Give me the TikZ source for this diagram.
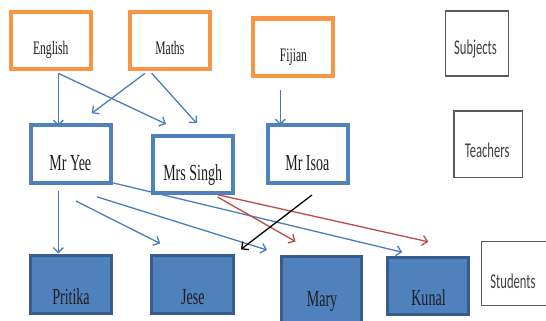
\documentclass[tikz,border=0pt]{standalone}
\usepackage{fontspec}
\setmainfont{Liberation Serif}
\newfontfamily\condserif[FakeStretch=0.61]{Liberation Serif}
\newfontfamily\condsans[FakeStretch=0.6]{Carlito}
\usetikzlibrary{arrows.meta,calc}
\definecolor{orng}{HTML}{F79646}
\definecolor{tblue}{HTML}{4F81BD}
\definecolor{sfill}{HTML}{4F81BD}
\definecolor{sborder}{HTML}{385D8A}
\definecolor{ablue}{HTML}{4A7EBB}
\definecolor{ared}{HTML}{BE4B48}
\definecolor{txt}{HTML}{1E1E1E}
\begin{document}
\begin{tikzpicture}[x=1pt,y=-1pt,
  subjbox/.style={draw=orng, line width=4.2pt, fill=white, minimum width=80pt, minimum height=57pt, inner sep=0pt, outer sep=0pt},
  teachbox/.style={draw=tblue, line width=4pt, fill=white, minimum width=80pt, minimum height=57.3pt, inner sep=0pt, outer sep=0pt},
  studbox/.style={draw=sborder, fill=sfill, line width=3pt, minimum width=81.5pt, minimum height=58pt, inner sep=0pt, outer sep=0pt},
  catbox/.style={draw=black!65, line width=1.3pt, fill=white, inner sep=0pt, outer sep=0pt},
  smalltxt/.style={font=\condserif\fontsize{19}{19}\selectfont, text=txt, inner sep=0pt, anchor=base},
  bigtxt/.style={font=\condserif\fontsize{23}{23}\selectfont, text=txt, inner sep=0pt, anchor=base},
  sanstxt/.style={font=\condsans\fontsize{21}{21}\selectfont, text=txt!85!white, inner sep=0pt, anchor=base},
  arr/.style={line width=1.3pt, -{Straight Barb[length=5pt,width=10pt]}},
  barrow/.style={arr, draw=ablue},
  rarrow/.style={arr, draw=ared},
  karrow/.style={arr, draw=black}]
\useasboundingbox (0,0) rectangle (546,321);
\clip (0,0) rectangle (546,321);

% subjects
\node[subjbox] (eng) at (50.85,40.35) {};
\node[subjbox] (maths) at (170.25,40.35) {};
\node[subjbox, minimum height=57.7pt] (fij) at (293.35,47.35) {};
\node[catbox, minimum width=63.3pt, minimum height=64.9pt] (subj) at (477.1,43.5) {};

% teachers
\node[teachbox] (yee) at (71,154) {};
\node[teachbox] (singh) at (193.3,164.5) {};
\node[teachbox] (isoa) at (307.8,154.1) {};
\node[catbox, minimum width=68.7pt, minimum height=66.6pt] (teach) at (488.3,144.35) {};

% students
\node[studbox] (prit) at (70.75,284.5) {};
\node[studbox] (jese) at (192.7,284.5) {};
\node[studbox, minimum width=80.5pt, minimum height=67pt] (mary) at (321.25,290) {};
\node[studbox, minimum width=81.2pt, minimum height=57.5pt] (kunal) at (427.9,285.75) {};
\node[catbox, minimum width=65pt, minimum height=63.7pt] (stud) at (514.3,273.5) {};

% labels
\node[smalltxt] (engT) at (50.8,54.5) {English};
\node[smalltxt] (mathsT) at (169.8,54.5) {Maths};
\node[smalltxt] (fijT) at (293.5,61.5) {Fijian};
\node[sanstxt] (subjT) at (475.5,54.5) {Subjects};
\node[bigtxt] (yeeT) at (70.3,170.5) {Mr Yee};
\node[bigtxt] (singhT) at (192.7,180) {Mrs Singh};
\node[bigtxt] (isoaT) at (307.3,170.5) {Mr Isoa};
\node[sanstxt] (teachT) at (487.1,157) {Teachers};
\node[bigtxt] (pritT) at (71,304) {Pritika};
\node[bigtxt] (jeseT) at (192.9,304) {Jese};
\node[bigtxt] (maryT) at (322,306) {Mary};
\node[bigtxt] (kunalT) at (428.5,305) {Kunal};
\node[sanstxt] (studT) at (513,288) {Students};

% connectors: subjects -> teachers
\draw[barrow] ($(eng)+(7.45,32.95)$) -- ($(yee)+(-12.7,-28)$);
\draw[barrow] ($(eng)+(7.45,32.95)$) -- ($(singh)+(-27.3,-40.5)$);
\draw[barrow] ($(maths)+(-25.25,32.95)$) -- ($(yee)+(20.7,-40.7)$);
\draw[barrow] ($(maths)+(-18.55,32.95)$) -- ($(singh)+(3.4,-41.2)$);
\draw[barrow] ($(fij)+(-13.05,42.45)$) -- ($(isoa)+(-27.5,-29.1)$);

% teachers -> students
\draw[barrow] ($(yee)+(-12.7,37)$) -- ($(prit)+(-12.45,-31)$);
\draw[barrow] ($(yee)+(4.9,47)$) -- ($(jese)+(-32.5,-41)$);
\draw[barrow] ($(yee)+(25.8,42.8)$) -- ($(mary)+(-54.25,-40)$);
\draw[barrow] ($(yee)+(42.2,28.9)$) -- ($(kunal)+(-25.7,-33.55)$);
\draw[rarrow] ($(singh)+(24.3,32.5)$) -- ($(mary)+(-25.75,-48.5)$);
\draw[rarrow] ($(singh)+(24.3,30.2)$) -- ($(kunal)+(0.4,-43.95)$);
\draw[karrow] ($(isoa)+(4.2,40.9)$) -- ($(jese)+(48.3,-35.2)$);
\end{tikzpicture}
\end{document}
